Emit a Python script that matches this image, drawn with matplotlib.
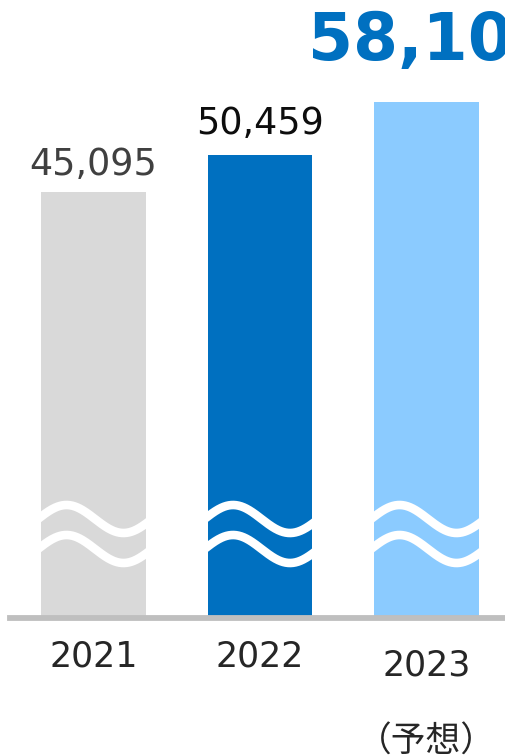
import numpy as np
import matplotlib
matplotlib.use("Agg")
import matplotlib.pyplot as plt
from matplotlib.transforms import blended_transform_factory, ScaledTranslation

plt.rcParams['font.family'] = ['DejaVu Sans', 'Noto Sans CJK JP']

# ---- data ----
years = ["2021", "2022", "2023"]
sublabels = ["", "", "（予想）"]
values = [45095, 50459, 58100]
value_labels = ["45,095", "50,459", "58,100"]

# ---- styles ----
bar_colors = ["#d9d9d9", "#0070c0", "#8bcbff"]
label_colors = ["#404040", "#0d0d0d", "#0070c0"]
label_weights = ["normal", "normal", "bold"]
label_sizes = [26.3, 26.3, 46.5]
label_offsets = [(0, 12.5), (0, 15), (4.5, 30)]

BASE = -16000
fig = plt.figure(figsize=(5.05, 7.56), dpi=100)
ax = fig.add_axes([10/505, 138/756, 495/505, 618/756])

x = np.arange(len(years))
ax.bar(x, [v - BASE for v in values], width=0.63, bottom=BASE,
       color=bar_colors, zorder=2)
ax.set_xlim(-0.5015, 2.471)
ax.set_ylim(BASE, 72700)

for xi, v, lab, c, w, s, off in zip(x, values, value_labels, label_colors,
                                     label_weights, label_sizes, label_offsets):
    ax.annotate(lab, (xi, v), xytext=off, textcoords="offset points",
                ha="center", va="baseline", color=c, fontsize=s,
                fontweight=w, annotation_clip=False)

# break waves
tr = blended_transform_factory(ax.transData, ax.transAxes)
t = np.linspace(-61.5, 61.5, 200)  # pixels relative to bar centre
px_per_unit = 166.5
for xi in x:
    for yc in (99/618, 69/618):
        yy = yc + (14/618) * np.cos(2*np.pi*(t + 27)/114)
        ax.plot(xi + t/px_per_unit, yy, color="white", lw=6.2,
                solid_capstyle="butt", transform=tr, zorder=3, clip_on=False)

# axes styling
for sp in ["top", "left", "right"]:
    ax.spines[sp].set_visible(False)
ax.spines["bottom"].set_color("#bfbfbf")
ax.spines["bottom"].set_linewidth(4.2)
ax.spines["bottom"].set_zorder(4)
ax.set_yticks([])
ticklabels = [y if not s else y + "\n" + s for y, s in zip(years, sublabels)]
ax.set_xticks(x)
ax.set_xticklabels(ticklabels, fontsize=25, color="#262626", linespacing=2.55)
ax.tick_params(axis="x", length=0, pad=15.5)
lbls = ax.get_xticklabels()
lbls[2].set_transform(lbls[2].get_transform() +
                      ScaledTranslation(0, -9/100, fig.dpi_scale_trans))

fig.savefig("out.png", dpi=100)
